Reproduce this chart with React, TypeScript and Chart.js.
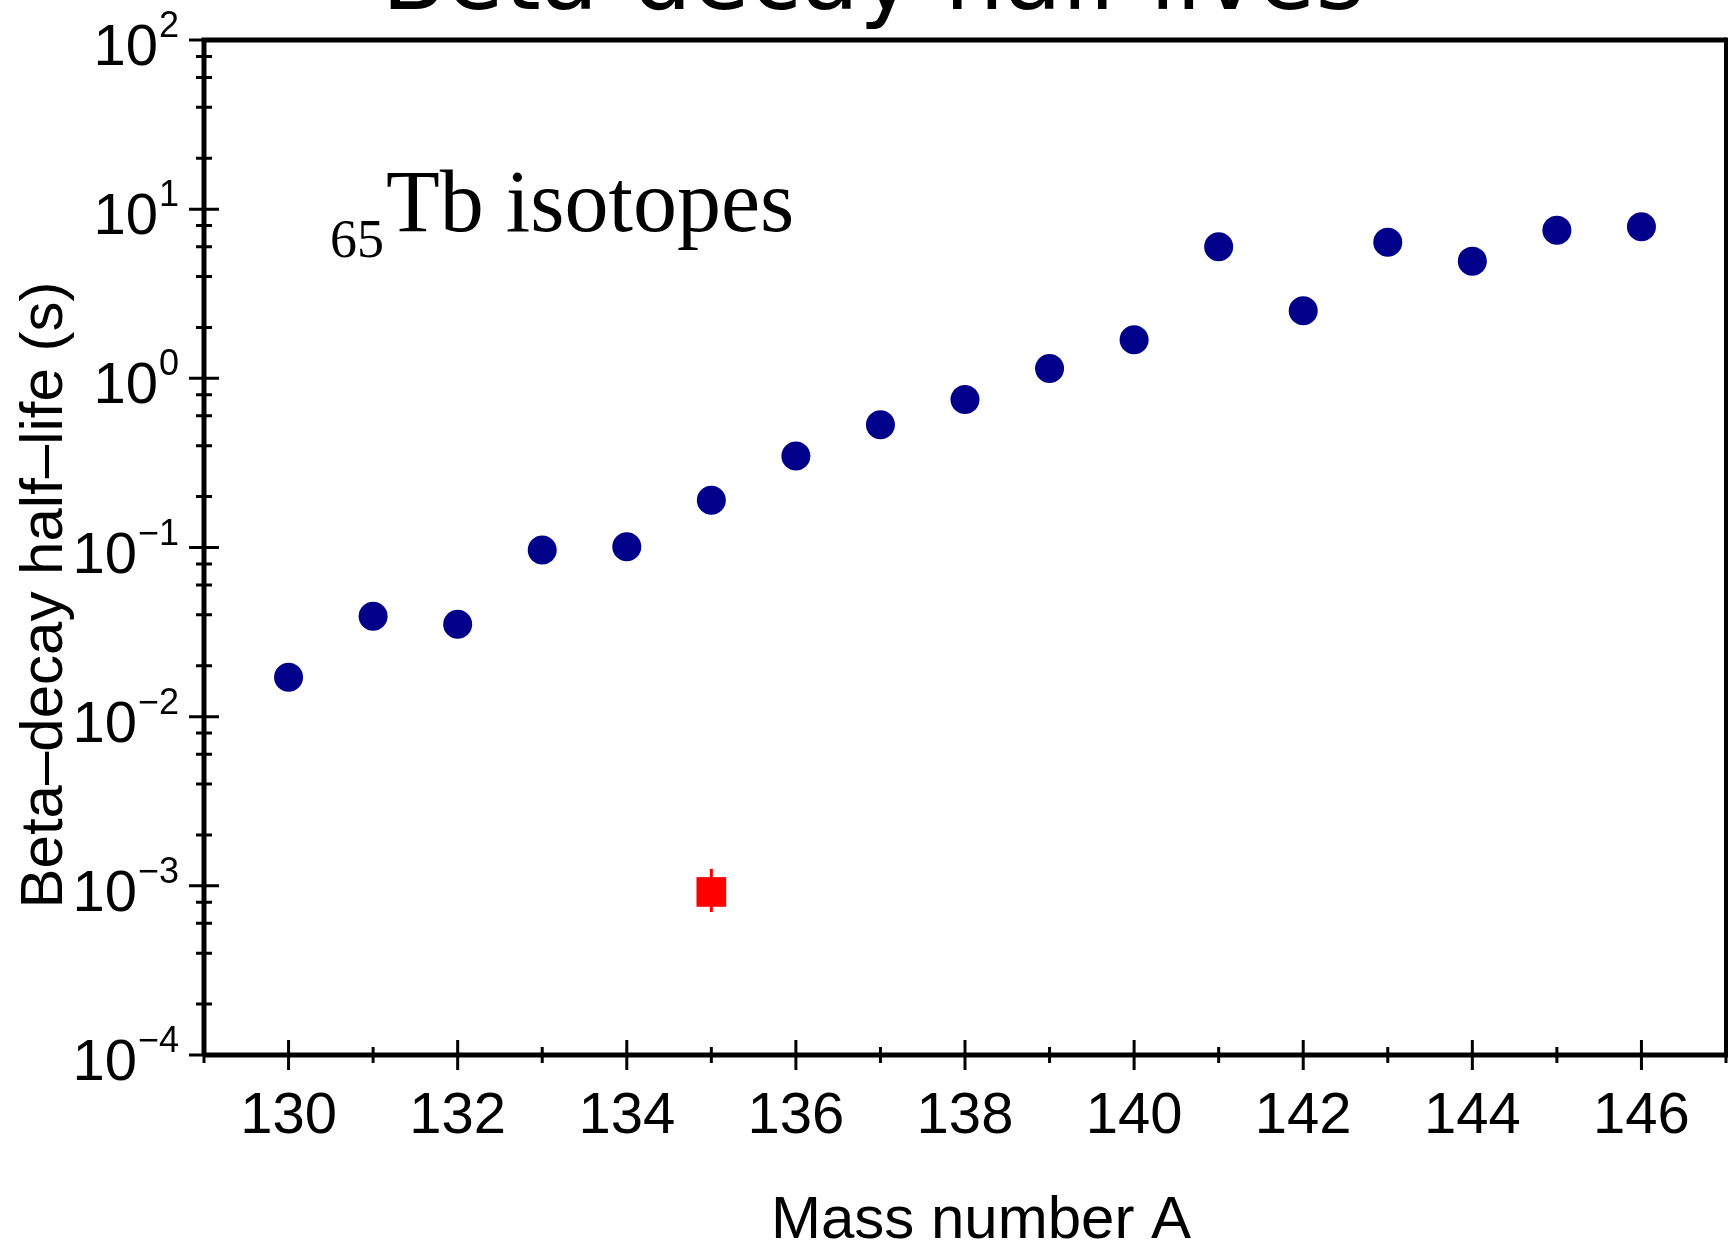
import React, { useEffect, useRef } from "react";
import { Chart, registerables } from "chart.js";

Chart.register(...registerables);

// ---- data ----
const massNumbers = [130, 131, 132, 133, 134, 135, 136, 137, 138, 139, 140, 141, 142, 143, 144, 145, 146];
const halfLives = [0.0171, 0.0392, 0.0352, 0.0968, 0.101, 0.19, 0.348, 0.531, 0.75, 1.143, 1.69, 6.0, 2.51, 6.37, 4.93, 7.51, 7.87];

const newMass = [135];
const newHalfLife = [0.00092];
const newErrLow = [0.0007];
const newErrHigh = [0.00126];

const xMajorTicks = [130, 132, 134, 136, 138, 140, 142, 144, 146];
const xMinorTicks = [129, 131, 133, 135, 137, 139, 141, 143, 145, 147];
const yMajorExponents = [-4, -3, -2, -1, 0, 1, 2];
const yMinorMultipliers = [2, 4, 6, 8];

const titleText = "Beta-decay half-lives";
const xAxisTitle = "Mass number A";
const yAxisTitle = "Beta\u2013decay half\u2013life (s)";
const annotationSub = "65";
const annotationMain = "Tb isotopes";

const X_MIN = 129;
const X_MAX = 147;
const Y_MIN = 1e-4;
const Y_MAX = 1e2;

const SANS = '"Liberation Sans", Arial, Helvetica, sans-serif';
const SERIF = '"Liberation Serif", "Times New Roman", serif';

const decorPlugin = {
  id: "decor",
  beforeDatasetsDraw(chart: any) {
    const { ctx, scales } = chart;
    const x = scales.x;
    const y = scales.y;
    ctx.save();
    ctx.strokeStyle = "#ff0000";
    ctx.lineWidth = 3;
    for (let i = 0; i < newMass.length; i++) {
      const px = x.getPixelForValue(newMass[i]);
      ctx.beginPath();
      ctx.moveTo(px, y.getPixelForValue(newErrLow[i]));
      ctx.lineTo(px, y.getPixelForValue(newErrHigh[i]));
      ctx.stroke();
    }
    ctx.restore();
  },
  afterDatasetsDraw(chart: any) {
    const { ctx, chartArea: a, scales } = chart;
    const x = scales.x;
    const y = scales.y;
    ctx.save();
    ctx.strokeStyle = "#000";
    ctx.fillStyle = "#000";
    ctx.lineCap = "butt";

    // frame
    ctx.lineWidth = 5;
    ctx.beginPath();
    ctx.moveTo(a.left, a.bottom);
    ctx.lineTo(a.left, a.top);
    ctx.lineTo(a.right, a.top);
    ctx.moveTo(a.left, a.bottom);
    ctx.lineTo(a.right, a.bottom);
    ctx.stroke();
    ctx.lineWidth = 4;
    ctx.beginPath();
    ctx.moveTo(a.right, a.top - 2.5);
    ctx.lineTo(a.right, a.bottom + 2.5);
    ctx.stroke();

    // y ticks
    ctx.lineWidth = 3;
    ctx.beginPath();
    for (const e of yMajorExponents) {
      const py = y.getPixelForValue(Math.pow(10, e));
      ctx.moveTo(a.left - 15, py);
      ctx.lineTo(a.left + 15, py);
      if (e < yMajorExponents[yMajorExponents.length - 1]) {
        for (const m of yMinorMultipliers) {
          const pm = y.getPixelForValue(m * Math.pow(10, e));
          ctx.moveTo(a.left - 8, pm);
          ctx.lineTo(a.left + 8, pm);
        }
      }
    }
    // x ticks
    for (const v of xMajorTicks) {
      const px = x.getPixelForValue(v);
      ctx.moveTo(px, a.bottom - 15);
      ctx.lineTo(px, a.bottom + 15);
    }
    for (const v of xMinorTicks) {
      const px = x.getPixelForValue(v);
      ctx.moveTo(px, a.bottom - 8);
      ctx.lineTo(px, a.bottom + 8);
    }
    ctx.stroke();

    // x tick labels
    ctx.font = `58px ${SANS}`;
    ctx.textAlign = "center";
    ctx.textBaseline = "alphabetic";
    for (const v of xMajorTicks) {
      ctx.fillText(String(v), x.getPixelForValue(v), a.bottom + 78);
    }

    // y tick labels
    const rightEdge = a.left - 25;
    for (const e of yMajorExponents) {
      const py = y.getPixelForValue(Math.pow(10, e));
      const expStr = e < 0 ? "\u2212" + String(-e) : String(e);
      ctx.textAlign = "right";
      ctx.font = `36px ${SANS}`;
      const ew = ctx.measureText(expStr).width;
      ctx.fillText(expStr, rightEdge, py - 3);
      ctx.font = `58px ${SANS}`;
      ctx.fillText("10", rightEdge - ew - 1, py + 25);
    }

    // axis titles
    ctx.font = `60px ${SANS}`;
    ctx.textAlign = "center";
    ctx.fillText(xAxisTitle, 981, 1238);

    ctx.save();
    ctx.translate(62, 595);
    ctx.rotate(-Math.PI / 2);
    ctx.textAlign = "center";
    ctx.fillText(yAxisTitle, 0, 0);
    ctx.restore();

    // annotation
    ctx.textAlign = "left";
    ctx.font = `54px ${SERIF}`;
    ctx.fillText(annotationSub, 330, 257);
    ctx.font = `88px ${SERIF}`;
    ctx.fillText(annotationMain, 386, 231);

    // title (cut off at top)
    ctx.font = `94px "DejaVu Sans", sans-serif`;
    ctx.textAlign = "center";
    ctx.fillText(titleText, 873, 9);

    ctx.restore();
  },
};

export default function App() {
  const canvasRef = useRef<HTMLCanvasElement | null>(null);

  useEffect(() => {
    const canvas = canvasRef.current;
    if (!canvas) return;
    const chart = new Chart(canvas, {
      type: "scatter",
      data: {
        datasets: [
          {
            label: "Tb half-lives",
            data: massNumbers.map((m, i) => ({ x: m, y: halfLives[i] })),
            pointStyle: "circle",
            pointRadius: 14.5,
            pointHoverRadius: 14.5,
            backgroundColor: "#00008B",
            borderWidth: 0,
            pointBorderWidth: 0,
          },
          {
            label: "New measurement",
            data: newMass.map((m, i) => ({ x: m, y: newHalfLife[i] })),
            pointStyle: "rect",
            pointRadius: 21,
            pointHoverRadius: 21,
            backgroundColor: "#FF0000",
            borderWidth: 0,
            pointBorderWidth: 0,
          },
        ],
      },
      options: {
        animation: false,
        responsive: false,
        devicePixelRatio: 1,
        layout: { autoPadding: false, padding: { left: 204, top: 40, right: 9, bottom: 188 } },
        scales: {
          x: { type: "linear", min: X_MIN, max: X_MAX, display: false },
          y: { type: "logarithmic", min: Y_MIN, max: Y_MAX, display: false },
        },
        plugins: {
          legend: { display: false },
          tooltip: { enabled: false },
          title: { display: false },
        },
        events: [],
      },
      plugins: [decorPlugin],
    });
    return () => chart.destroy();
  }, []);

  return (
    <div style={{ position: "fixed", left: 0, top: 0, width: 1735, height: 1243, background: "#fff" }}>
      <canvas ref={canvasRef} width={1735} height={1243} style={{ width: 1735, height: 1243, display: "block" }} />
    </div>
  );
}
